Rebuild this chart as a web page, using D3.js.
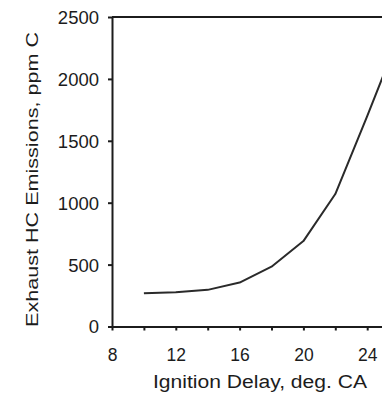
<!DOCTYPE html>
<html>
<head>
<meta charset="utf-8">
<script src="https://cdn.jsdelivr.net/npm/d3@7"></script>
<style>
  body { margin: 0; background: #fff; }
  svg { display: block; }
  .axis path, .axis line { stroke: #1c1c1c; stroke-width: 2; }
  .axis text { font-family: "Liberation Sans", Arial, sans-serif; fill: #1c1c1c; }
</style>
</head>
<body>
<div id="chart"></div>
<script>
// ignition delay (deg CA) vs exhaust HC (ppm C)
var delay = [10, 12, 14, 16, 18, 20, 22, 24, 26];
var hc = [268, 276, 296, 355, 483, 690, 1070, 1700, 2350];
var xTicks = [8, 10, 12, 14, 16, 18, 20, 22, 24, 26, 28];
var xLabels = [8, 12, 16, 20, 24, 28];
var yTicks = [0, 500, 1000, 1500, 2000, 2500];

var width = 382, height = 398;
var plotLeft = 112, plotTop = 17, plotBottom = 326.5;

var svg = d3.select("#chart").append("svg")
	.attr("width", width)
	.attr("height", height);

var x = d3.scaleLinear().domain([8, 28]).range([plotLeft, plotLeft + 20 * 15.95]);
var y = d3.scaleLinear().domain([0, 2500]).range([plotBottom, plotTop]);

// x axis, ticks every 2, labels every 4
var xAxis = svg.append("g")
	.attr("class", "axis")
	.attr("transform", "translate(0," + plotBottom + ")")
	.call(d3.axisBottom(x)
		.tickValues(xTicks)
		.tickSizeInner(4)
		.tickSizeOuter(0)
		.tickFormat(function(d) { return xLabels.indexOf(d) >= 0 ? d : ""; }));
xAxis.selectAll("text")
	.attr("y", 34.5)
	.attr("dy", 0)
	.attr("font-size", "17.5px");

// y axis
var yAxis = svg.append("g")
	.attr("class", "axis")
	.attr("transform", "translate(" + plotLeft + ",0)")
	.call(d3.axisLeft(y)
		.tickValues(yTicks)
		.tickSizeInner(4)
		.tickSizeOuter(0)
		.tickFormat(d3.format("d")));
yAxis.selectAll("text")
	.attr("x", -13)
	.attr("dy", "0.35em")
	.attr("font-size", "18.5px");

// top frame line
svg.append("line")
	.attr("x1", plotLeft).attr("x2", width)
	.attr("y1", y(2500)).attr("y2", y(2500))
	.attr("stroke", "#1c1c1c")
	.attr("stroke-width", 2);

// the curve (straight segments between read points)
var line = d3.line()
	.x(function(d, i) { return x(delay[i]); })
	.y(function(d) { return y(d); });
svg.append("path")
	.datum(hc)
	.attr("d", line)
	.attr("fill", "none")
	.attr("stroke", "#2a2a2a")
	.attr("stroke-width", 2)
	.attr("stroke-linejoin", "round");

// axis titles
svg.append("text")
	.attr("x", 260)
	.attr("y", 388.3)
	.attr("text-anchor", "middle")
	.attr("font-family", "Liberation Sans, Arial, sans-serif")
	.attr("font-size", "18px")
	.attr("fill", "#1c1c1c")
	.attr("textLength", 214)
	.attr("lengthAdjust", "spacingAndGlyphs")
	.text("Ignition Delay, deg. CA");

svg.append("text")
	.attr("transform", "translate(38.3,179.5) rotate(-90)")
	.attr("text-anchor", "middle")
	.attr("font-family", "Liberation Sans, Arial, sans-serif")
	.attr("font-size", "17px")
	.attr("fill", "#1c1c1c")
	.attr("textLength", 295)
	.attr("lengthAdjust", "spacingAndGlyphs")
	.text("Exhaust HC Emissions, ppm C");
</script>
</body>
</html>
